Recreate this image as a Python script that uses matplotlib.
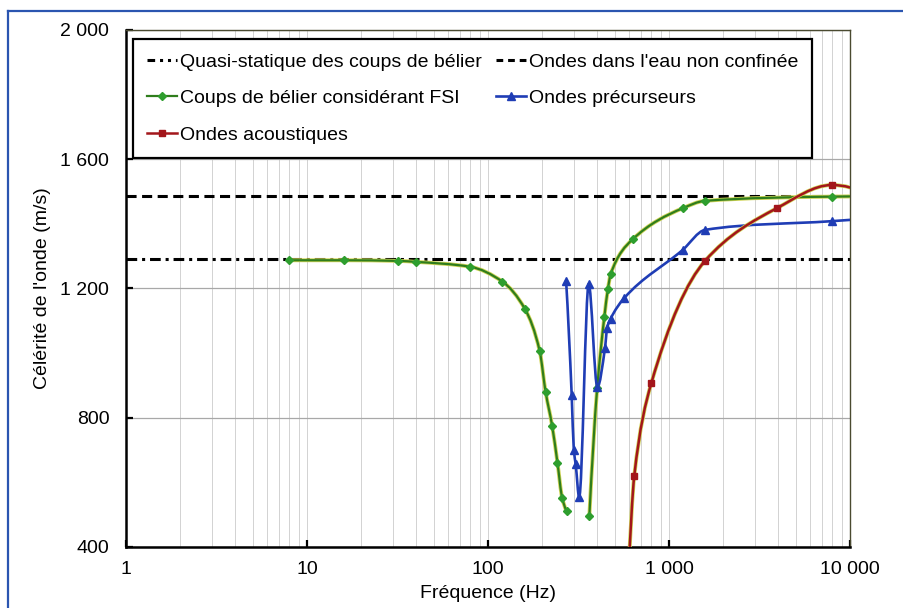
import matplotlib

matplotlib.use("Agg")
import matplotlib.pyplot as plt
import matplotlib.patheffects as pe
import numpy as np
from matplotlib.lines import Line2D
from matplotlib.patches import PathPatch
from matplotlib.path import Path
from matplotlib.ticker import LogLocator, NullFormatter

plt.rcParams["font.family"] = ["Liberation Sans", "DejaVu Sans"]

# reference levels (m/s)
QUASI_STATIC = 1290
FREE_WATER = 1485

# coups de belier considerant FSI (two pieces, gap between them)
FSI_LOW_F = [8, 16, 32, 40, 79.5, 120, 160, 193, 208, 226, 242, 257, 274]
FSI_LOW_C = [1287, 1287, 1285, 1282, 1267, 1221, 1136, 1006, 880, 775, 660, 551, 511]
FSI_HIGH_F = [363, 401, 439, 460, 476, 630, 1190, 1581, 7920, 12600]
FSI_HIGH_C = [495, 890, 1110, 1199, 1244, 1352, 1448, 1471, 1484, 1485]

# ondes precurseurs
PREC_F = [270, 290, 298, 305, 319, 360, 402, 443, 455, 476, 564, 1190, 1581, 7920, 12600]
PREC_C = [1224, 870, 699, 656, 553, 1213, 894, 1016, 1076, 1106, 1169, 1319, 1381, 1408, 1416]

# ondes acoustiques
ACOU_F = [598, 643, 798, 1581, 3936, 7920, 12600]
ACOU_C = [330, 620, 906, 1285, 1448, 1520, 1490]

X_TICKS = [1, 10, 100, 1000, 10000]
X_LABELS = ["1", "10", "100", "1 000", "10 000"]
Y_TICKS = [400, 800, 1200, 1600, 2000]
Y_LABELS = ["400", "800", "1 200", "1 600", "2 000"]


def pchip_slopes(x, y):
    h = np.diff(x)
    d = np.diff(y) / h
    n = len(x)
    m = np.zeros(n)
    if n == 2:
        m[:] = d[0]
        return m
    for k in range(1, n - 1):
        if d[k - 1] * d[k] > 0:
            w1 = 2 * h[k] + h[k - 1]
            w2 = h[k] + 2 * h[k - 1]
            m[k] = (w1 + w2) / (w1 / d[k - 1] + w2 / d[k])

    def end(h0, h1, d0, d1):
        s = ((2 * h0 + h1) * d0 - h0 * d1) / (h0 + h1)
        if np.sign(s) != np.sign(d0):
            return 0.0
        if np.sign(d0) != np.sign(d1) and abs(s) > 3 * abs(d0):
            return 3 * d0
        return s

    m[0] = end(h[0], h[1], d[0], d[1])
    m[-1] = end(h[-1], h[-2], d[-1], d[-2])
    return m


def smooth_path(f, c):
    """Smoothed line: shape-preserving cubic in (log f, c), drawn as Bezier."""
    x = np.log10(np.asarray(f, dtype=float))
    y = np.asarray(c, dtype=float)
    m = pchip_slopes(x, y)
    verts = [(x[0], y[0])]
    codes = [Path.MOVETO]
    for i in range(len(x) - 1):
        h = x[i + 1] - x[i]
        verts += [(x[i] + h / 3, y[i] + m[i] * h / 3),
                  (x[i + 1] - h / 3, y[i + 1] - m[i + 1] * h / 3),
                  (x[i + 1], y[i + 1])]
        codes += [Path.CURVE4] * 3
    verts = np.array(verts)
    verts[:, 0] = 10 ** verts[:, 0]
    return Path(verts, codes)


fig = plt.figure(figsize=(9.04, 6.08), dpi=100)
ax = fig.add_axes([126 / 904, 1 - 546.7 / 608, 724 / 904, 516.7 / 608])
ax.set_xscale("log")
ax.set_xlim(1, 10000)
ax.set_ylim(400, 2000)

ax.xaxis.set_minor_locator(LogLocator(base=10, subs=np.arange(2, 10)))
ax.xaxis.set_minor_formatter(NullFormatter())
ax.grid(True, axis="x", which="both", color="#d2d2d2", lw=0.7)
ax.grid(True, axis="y", which="major", color="#a8a8a8", lw=0.9)
ax.set_axisbelow(True)

ax.axhline(QUASI_STATIC, color="black", lw=2.2, ls=(0, (3.5, 1.6, 1, 1.6)))
ax.axhline(FREE_WATER, color="black", lw=2.2, ls=(0, (3.3, 1.8)))

green_line, green_mk = "#2f7d1c", "#2e9e2e"
blue_line = "#1f3db5"
red_line = "#a3161b"
fringe = [pe.Stroke(linewidth=2.8, foreground="#cfd456"), pe.Normal()]

for f, c in [(FSI_LOW_F, FSI_LOW_C), (FSI_HIGH_F, FSI_HIGH_C)]:
    ax.add_patch(PathPatch(smooth_path(f, c), fill=False, edgecolor=green_line,
                           lw=1.6, path_effects=fringe, zorder=3))
    ax.plot(f, c, ls="none", marker="D", ms=4.5, color=green_mk, zorder=4)

ax.add_patch(PathPatch(smooth_path(PREC_F, PREC_C), fill=False, edgecolor=blue_line,
                       lw=1.9, zorder=3))
ax.plot(PREC_F, PREC_C, ls="none", marker="^", ms=6, color=blue_line, zorder=4)

ax.add_patch(PathPatch(smooth_path(ACOU_F, ACOU_C), fill=False, edgecolor=red_line,
                       lw=1.8, path_effects=fringe, zorder=3))
ax.plot(ACOU_F, ACOU_C, ls="none", marker="s", ms=5, color=red_line, zorder=4)

ax.set_xticks(X_TICKS, X_LABELS)
ax.set_yticks(Y_TICKS, Y_LABELS)
ax.tick_params(which="major", direction="in", length=5, width=1.6, labelsize=14,
               colors="black")
ax.tick_params(axis="x", which="major", pad=10)
ax.tick_params(axis="y", which="major", pad=12)
ax.tick_params(which="minor", length=0)
for side in ("left", "bottom"):
    ax.spines[side].set_linewidth(1.8)
for side in ("top", "right"):
    ax.spines[side].set_linewidth(1.0)
    ax.spines[side].set_color("#4a4a30")

ax.set_xlabel("Fréquence (Hz)", fontsize=14)
ax.xaxis.set_label_coords(0.5, -0.074)
ax.set_ylabel("Célérité de l'onde (m/s)", fontsize=14)
ax.yaxis.set_label_coords(-0.104, 0.5)

handles = [
    Line2D([], [], color="black", lw=2.2, ls=(0, (2.5, 1.6, 1, 1.6, 1, 1.6))),
    Line2D([], [], color=green_line, lw=1.6, marker="D", ms=4.5, mfc=green_mk, mec=green_mk),
    Line2D([], [], color=red_line, lw=1.8, marker="s", ms=5),
    Line2D([], [], color="black", lw=2.2, ls=(0, (2.2, 1.6))),
    Line2D([], [], color=blue_line, lw=1.9, marker="^", ms=6),
]
labels = [
    "Quasi-statique des coups de bélier",
    "Coups de bélier considérant FSI",
    "Ondes acoustiques",
    "Ondes dans l'eau non confinée",
    "Ondes précurseurs",
]
leg = ax.legend(handles, labels, ncol=2, loc="upper left", mode="expand",
                bbox_to_anchor=(0.0097, 0.5, 0.938, 0.4826), borderaxespad=0,
                fontsize=14, handlelength=1.55, handletextpad=0.15,
                labelspacing=0.98, borderpad=0.72, fancybox=False, framealpha=1,
                numpoints=1)
leg.get_frame().set_edgecolor("black")
leg.get_frame().set_linewidth(1.6)

# blue frame of the original figure
fig.add_artist(Line2D([8 / 904, 1], [1 - 11 / 608] * 2, color="#2b55b0", lw=1.6))
fig.add_artist(Line2D([8 / 904] * 2, [0, 1 - 11 / 608], color="#2b55b0", lw=1.6))

fig.savefig("out.png", dpi=100)
